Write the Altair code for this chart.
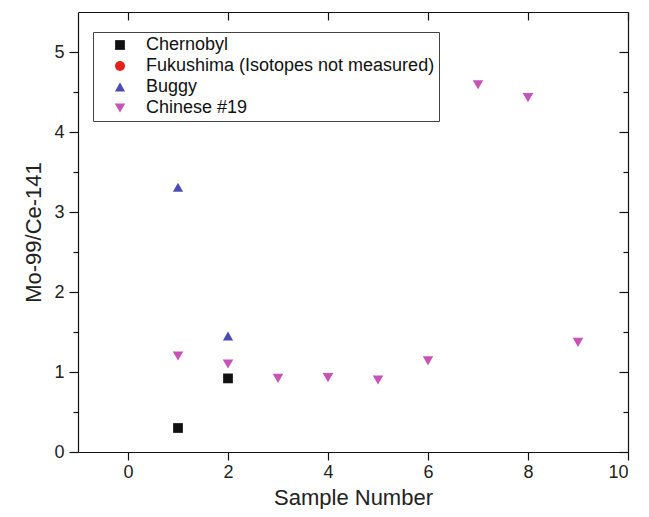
import altair as alt
import pandas as pd

series = ["Chernobyl", "Fukushima (Isotopes not measured)", "Buggy", "Chinese #19"]
colors = ["#111111", "#e3221c", "#4b4db3", "#c653b5"]
shapes = ["square", "circle", "triangle-up", "triangle-down"]

chernobyl_x = [1, 2]
chernobyl_y = [0.30, 0.92]
fukushima_x = []
fukushima_y = []
buggy_x = [1, 2]
buggy_y = [3.31, 1.45]
chinese_x = [1, 2, 3, 4, 5, 6, 7, 8, 9]
chinese_y = [1.20, 1.10, 0.92, 0.93, 0.90, 1.14, 4.59, 4.43, 1.37]

x_ticks = [0, 2, 4, 6, 8, 10]
y_ticks = [0, 0.5, 1, 1.5, 2, 2.5, 3, 3.5, 4, 4.5, 5]

rows = []
for name, xs, ys in [
    (series[0], chernobyl_x, chernobyl_y),
    (series[1], fukushima_x, fukushima_y),
    (series[2], buggy_x, buggy_y),
    (series[3], chinese_x, chinese_y),
]:
    for xv, yv in zip(xs, ys):
        rows.append({"sample": xv, "ratio": yv, "series": name})
df = pd.DataFrame(rows)

FONT = "Liberation Sans"
W, H = 550, 440

xscale = alt.Scale(domain=[-1, 10], nice=False, zero=False)
yscale = alt.Scale(domain=[0, 5.5], nice=False, zero=False)

legend = alt.Legend(
    orient="none", legendX=15, legendY=20, title=None,
    strokeColor="#444444", fillColor="white", padding=4,
    labelFont=FONT, labelFontSize=18, labelColor="#111111",
    symbolSize=90, symbolStrokeWidth=0, rowPadding=3,
    symbolOffset=14, labelOffset=17, labelLimit=400,
)

minor_size = {"condition": {"test": "datum.value % 1 !== 0", "value": 5}, "value": 9}

points = alt.Chart(df).mark_point(filled=True, opacity=1).encode(
    x=alt.X("sample:Q", scale=xscale, title="Sample Number",
            axis=alt.Axis(values=x_ticks, orient="bottom", tickSize=8, labelPadding=3,
                          format="d", titlePadding=6, grid=False)),
    y=alt.Y("ratio:Q", scale=yscale, title="Mo-99/Ce-141",
            axis=alt.Axis(values=y_ticks, orient="left", tickSize=minor_size, format="~g",
                          labelExpr="datum.value % 1 === 0 ? datum.label : ''",
                          labelPadding=5, titlePadding=8, grid=False)),
    color=alt.Color("series:N", scale=alt.Scale(domain=series, range=colors), legend=legend),
    shape=alt.Shape("series:N", scale=alt.Scale(domain=series, range=shapes), legend=legend),
    size=alt.Size("series:N", scale=alt.Scale(domain=series, range=[95, 110, 190, 190]),
                  legend=None),
)

frame = alt.Chart(df).mark_point(opacity=0).encode(
    x=alt.X("sample:Q", scale=xscale, title=None,
            axis=alt.Axis(values=x_ticks, orient="bottom", offset=-H, tickSize=8,
                          labels=False, grid=False)),
    y=alt.Y("ratio:Q", scale=yscale, title=None,
            axis=alt.Axis(values=y_ticks, orient="left", offset=-W, tickSize=minor_size,
                          labels=False, grid=False)),
)

chart = alt.layer(points, frame).resolve_axis(
    x="independent", y="independent"
).properties(
    width=W, height=H,
    autosize=alt.AutoSizeParams(type="none"),
    padding={"left": 70, "top": 4, "right": 11, "bottom": 57},
    background="white",
).configure_view(stroke=None).configure_axis(
    domainColor="#111111", domainWidth=1.2, tickColor="#111111", tickWidth=1.2,
    labelFont=FONT, labelFontSize=18, labelColor="#222222", labelFontWeight="normal",
    titleFont=FONT, titleFontSize=22, titleColor="#222222", titleFontWeight="normal",
)

chart.save("out.html", embed_options={"renderer": "svg", "actions": False})
